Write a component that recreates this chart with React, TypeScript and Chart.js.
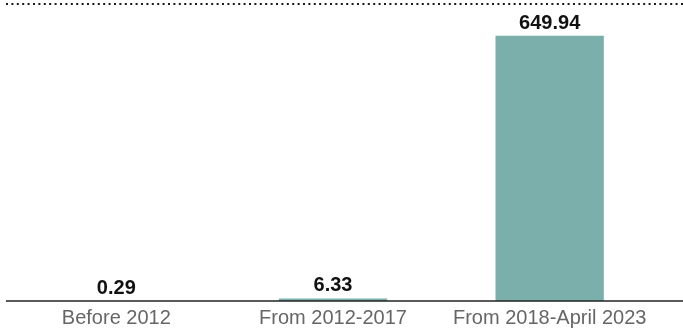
import React, { useEffect, useRef } from "react";
import { Chart, registerables } from "chart.js";

Chart.register(...registerables);

const categories = ["Before 2012", "From 2012-2017", "From 2018-April 2023"];
const values = [0.29, 6.33, 649.94];
const valueLabels = ["0.29", "6.33", "649.94"];
const yMax = 728;

const BAR_COLOR = "#7aafac";
const FONT = "'Liberation Sans', Arial, Helvetica, sans-serif";

const decorPlugin = {
  id: "decor",
  afterDraw(chart: any) {
    const { ctx, chartArea, width } = chart;
    ctx.save();
    // dotted top rule
    ctx.strokeStyle = "#1a1a1a";
    ctx.lineWidth = 2;
    ctx.setLineDash([2, 3.4]);
    ctx.beginPath();
    ctx.moveTo(6, chartArea.top);
    ctx.lineTo(width, chartArea.top);
    ctx.stroke();
    // solid baseline
    ctx.setLineDash([]);
    ctx.lineWidth = 1.5;
    ctx.strokeStyle = "#222";
    ctx.beginPath();
    ctx.moveTo(6, chartArea.bottom);
    ctx.lineTo(width, chartArea.bottom);
    ctx.stroke();
    // value labels
    const meta = chart.getDatasetMeta(0);
    ctx.fillStyle = "#111";
    ctx.font = `bold 20px ${FONT}`;
    ctx.textAlign = "center";
    ctx.textBaseline = "alphabetic";
    meta.data.forEach((bar: any, i: number) => {
      ctx.fillText(valueLabels[i], bar.x, bar.y - 7);
    });
    ctx.restore();
  },
};

export default function App() {
  const ref = useRef<HTMLCanvasElement>(null);
  useEffect(() => {
    document.body.style.margin = "0";
    const chart = new Chart(ref.current!, {
      type: "bar",
      data: {
        labels: categories,
        datasets: [
          {
            data: values,
            backgroundColor: BAR_COLOR,
            borderWidth: 0,
            categoryPercentage: 1,
            barPercentage: 0.5,
          },
        ],
      },
      options: {
        animation: false,
        responsive: true,
        maintainAspectRatio: false,
        layout: { padding: { left: 8, right: 25, top: 4, bottom: 0 } },
        plugins: { legend: { display: false }, tooltip: { enabled: false } },
        scales: {
          x: {
            grid: { display: false, drawTicks: false },
            border: { display: false },
            ticks: {
              color: "#666",
              font: { family: FONT, size: 20 },
              padding: 5,
              maxRotation: 0,
              autoSkip: false,
            },
            afterFit: (scale: any) => {
              scale.height = 28;
            },
          },
          y: {
            display: false,
            min: 0,
            max: yMax,
          },
        },
      },
      plugins: [decorPlugin],
    });
    return () => chart.destroy();
  }, []);
  return (
    <div style={{ width: 683, height: 329, position: "relative" }}>
      <canvas ref={ref} />
    </div>
  );
}
